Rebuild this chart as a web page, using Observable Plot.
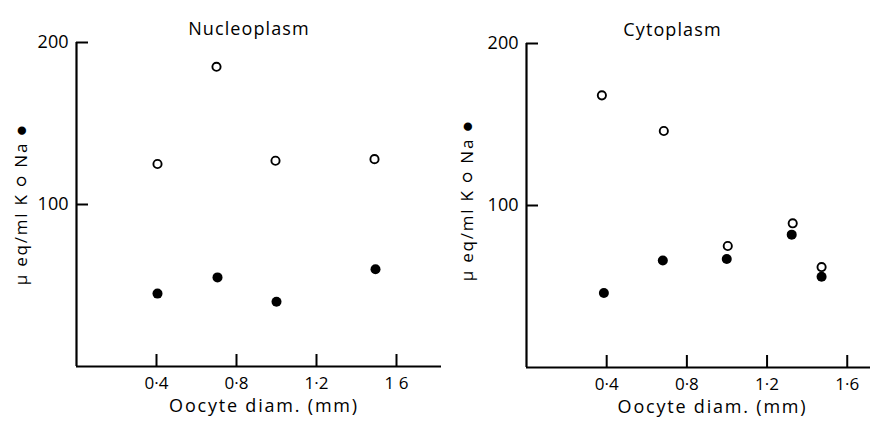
<!DOCTYPE html>
<html><head><meta charset="utf-8">
<script src="https://cdn.jsdelivr.net/npm/d3@7"></script>
<script src="https://cdn.jsdelivr.net/npm/@observablehq/plot@0.6"></script>
<style>
body{margin:0;background:#fff;}
#wrap{position:relative;width:872px;height:421px;overflow:hidden;}
#wrap svg{position:absolute;top:0;background:transparent;}
</style></head><body><div id="wrap"></div>
<script>
const xTicks = [0.4, 0.8, 1.2, 1.6];
const yTicks = [100, 200];
const yTickLabels = ["100", "200"];
const nucTickLabels = ["0·4", "0·8", "1·2", "1 6"];
const cytTickLabels = ["0·4", "0·8", "1·2", "1·6"];
const titles = ["Nucleoplasm", "Cytoplasm"];
const xLabel = "Oocyte diam. (mm)";
const yLabel = "μ eq/ml K ○ Na ●";

// Nucleoplasm
const nucKDiam = [0.405, 0.70, 0.995, 1.49];
const nucK = [125, 185, 127, 128];
const nucNaDiam = [0.405, 0.705, 1.0, 1.495];
const nucNa = [45, 55, 40, 60];

// Cytoplasm
const cytKDiam = [0.376, 0.685, 1.004, 1.328, 1.472];
const cytK = [168, 146, 75, 89, 62];
const cytNaDiam = [0.386, 0.68, 0.999, 1.323, 1.472];
const cytNa = [46, 66, 67, 82, 56];

const font = "'Open Sans', Lato, sans-serif";
const spacing = {[titles[0]]: 1.1, [titles[1]]: 1.1, [xLabel]: 1.8, [yLabel]: 1.8};

function panel(cfg) {
  const K = cfg.kx.map((x, i) => ({x, y: cfg.ky[i]}));
  const Na = cfg.nx.map((x, i) => ({x, y: cfg.ny[i]}));
  const svg = Plot.plot({
    width: cfg.width, height: 421,
    marginLeft: cfg.ml, marginRight: cfg.mr, marginTop: cfg.mt, marginBottom: cfg.mb,
    x: {domain: cfg.xdom, axis: null},
    y: {domain: [0, 200], axis: null},
    style: {fontFamily: font, fontSize: "17px", color: "black", background: "transparent", overflow: "visible"},
    marks: [
      Plot.ruleX([0], {stroke: "black", strokeWidth: 2.2}),
      Plot.ruleY([0], {stroke: "black", strokeWidth: 2.2}),
      Plot.axisX({ticks: xTicks, tickSize: -12, strokeWidth: 2, tickFormat: () => "", label: null}),
      Plot.axisX({ticks: xTicks, tickSize: 0, tickPadding: 10, label: null, fontSize: 17, tickFormat: d => cfg.xlabels[xTicks.indexOf(d)]}),
      Plot.axisY({ticks: yTicks, tickSize: -12, strokeWidth: 2, tickFormat: () => "", label: null}),
      Plot.axisY({ticks: yTicks, tickSize: 0, tickPadding: 8, label: null, fontSize: 18, tickFormat: d => yTickLabels[yTicks.indexOf(d)]}),
      Plot.dot(Na, {x: "x", y: "y", r: 5, fill: "black", stroke: "none"}),
      Plot.dot(K, {x: "x", y: "y", r: 4.1, fill: "white", stroke: "black", strokeWidth: 1.9}),
      Plot.text([cfg.title], {frameAnchor: "top", text: d => d, dx: cfg.tdx, dy: -20, fontSize: 18}),
      Plot.text([xLabel], {frameAnchor: "bottom", text: d => d, dx: cfg.xldx, dy: 45, fontSize: 18}),
      Plot.text([yLabel], {frameAnchor: "left", textAnchor: "middle", text: d => d, rotate: -90, dx: cfg.yldx, dy: cfg.yldy, fontSize: 17})
    ]
  });
  d3.select(svg).selectAll("text").each(function () {
    const s = spacing[this.textContent];
    if (s) this.setAttribute("letter-spacing", s);
  });
  svg.style.left = cfg.left + "px";
  document.getElementById("wrap").appendChild(svg);
}

panel({left: 0, width: 442, ml: 76, mr: 1, mt: 42, mb: 55, xdom: [0, 1.825],
  kx: nucKDiam, ky: nucK, nx: nucNaDiam, ny: nucNa, xlabels: nucTickLabels,
  title: titles[0], tdx: -10, xldx: 5, yldx: -55, yldy: 0});
panel({left: 436, width: 436, ml: 90, mr: 2, mt: 43, mb: 54, xdom: [0, 1.716],
  kx: cytKDiam, ky: cytK, nx: cytNaDiam, ny: cytNa, xlabels: cytTickLabels,
  title: titles[1], tdx: -26, xldx: 14, yldx: -59, yldy: -5});
</script></body></html>
